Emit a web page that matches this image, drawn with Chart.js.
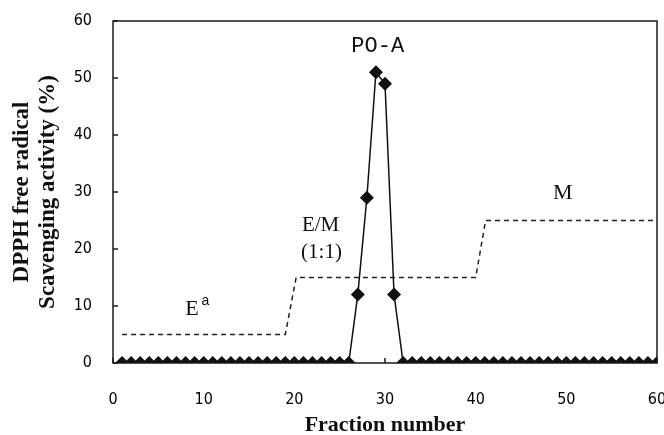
<!DOCTYPE html>
<html>
<head>
<meta charset="utf-8">
<script src="https://cdn.jsdelivr.net/npm/chart.js@4"></script>
<style>
  html, body { margin: 0; padding: 0; background: #fff; }
  #wrap { width: 664px; height: 435px; }
</style>
</head>
<body>
<div id="wrap"><canvas id="c"></canvas></div>
<script>
// Fraction numbers and DPPH scavenging activity (%)
const fractions = [1,2,3,4,5,6,7,8,9,10,11,12,13,14,15,16,17,18,19,20,
  21,22,23,24,25,26,27,28,29,30,31,32,33,34,35,36,37,38,39,40,
  41,42,43,44,45,46,47,48,49,50,51,52,53,54,55,56,57,58,59,60];
const activity = [0,0,0,0,0,0,0,0,0,0,0,0,0,0,0,0,0,0,0,0,
  0,0,0,0,0,0,12,29,51,49,12,0,0,0,0,0,0,0,0,0,
  0,0,0,0,0,0,0,0,0,0,0,0,0,0,0,0,0,0,0,0];

// Eluent step profile (dashed line)
const solventX = [1, 19, 20.2, 40, 41.1, 60];
const solventY = [5, 5, 15, 15, 25, 25];

const xTicks = [0, 10, 20, 30, 40, 50, 60];
const yTicks = [0, 10, 20, 30, 40, 50, 60];

// Text labels inside the plot (data coordinates)
const notes = [
  { text: "PO-A", x: 29.2, y: 55.6, font: "22px 'Liberation Mono'" },
  { text: "E/M", x: 22.9, y: 24.1, font: "21px 'Liberation Serif'" },
  { text: "(1:1)", x: 23.0, y: 19.4, font: "21px 'Liberation Serif'" },
  { text: "M", x: 49.6, y: 29.8, font: "22px 'Liberation Serif'" },
  { text: "E", x: 8.7, y: 9.5, font: "22px 'Liberation Serif'" },
  { text: "a", x: 10.2, y: 10.8, font: "14px 'Liberation Sans'" }
];

const boxAndTicks = {
  id: "boxAndTicks",
  afterDatasetsDraw(chart) {
    const { ctx, chartArea: a, scales } = chart;
    ctx.save();
    ctx.strokeStyle = "#1a1a1a";
    ctx.lineWidth = 1.5;
    // inward tick marks
    ctx.beginPath();
    yTicks.forEach(v => {
      const y = scales.y.getPixelForValue(v);
      ctx.moveTo(a.left, y);
      ctx.lineTo(a.left + 5, y);
    });
    xTicks.forEach(v => {
      const x = scales.x.getPixelForValue(v);
      ctx.moveTo(x, a.bottom);
      ctx.lineTo(x, a.bottom - 5);
    });
    ctx.stroke();
    ctx.strokeRect(a.left, a.top, a.right - a.left, a.bottom - a.top);
    // labels
    ctx.fillStyle = "#111";
    ctx.textAlign = "center";
    ctx.textBaseline = "middle";
    notes.forEach(n => {
      ctx.font = n.font;
      ctx.fillText(n.text, scales.x.getPixelForValue(n.x), scales.y.getPixelForValue(n.y));
    });
    ctx.restore();
  }
};

new Chart(document.getElementById("c"), {
  type: "line",
  data: {
    datasets: [
      {
        label: "PO-A",
        data: fractions.map((f, i) => ({ x: f, y: activity[i] })),
        borderColor: "#111",
        backgroundColor: "#111",
        borderWidth: 1.5,
        pointStyle: "rectRot",
        pointRadius: 7,
        pointBorderWidth: 0,
        tension: 0,
        order: 1
      },
      {
        label: "solvent",
        data: solventX.map((x, i) => ({ x, y: solventY[i] })),
        borderColor: "#222",
        borderWidth: 1.5,
        borderDash: [5, 4],
        pointRadius: 0,
        tension: 0,
        order: 2
      }
    ]
  },
  options: {
    responsive: true,
    maintainAspectRatio: false,
    animation: false,
    layout: { padding: 0 },
    plugins: { legend: { display: false }, tooltip: { enabled: false } },
    scales: {
      x: {
        type: "linear",
        min: 0,
        max: 60,
        afterBuildTicks: s => { s.ticks = xTicks.map(v => ({ value: v })); },
        afterFit: s => { s.height = 72; s.paddingLeft = 0; s.paddingRight = 7; },
        grid: { display: false, drawTicks: false },
        border: { display: false },
        ticks: {
          color: "#000",
          padding: 27,
          maxRotation: 0,
          font: { family: "'Liberation Sans Narrow', 'DejaVu Sans Condensed', sans-serif", size: 16 }
        },
        title: {
          display: true,
          text: "Fraction number",
          color: "#111",
          padding: { top: 0, bottom: -4 },
          font: { family: "'Liberation Serif', serif", size: 22, weight: "bold" }
        }
      },
      y: {
        min: 0,
        max: 60,
        afterBuildTicks: s => { s.ticks = yTicks.map(v => ({ value: v })); },
        afterFit: s => { s.width = 113; s.paddingTop = 21; s.paddingBottom = 0; },
        grid: { display: false, drawTicks: false },
        border: { display: false },
        ticks: {
          color: "#000",
          padding: 21,
          font: { family: "'Liberation Sans Narrow', 'DejaVu Sans Condensed', sans-serif", size: 16 }
        },
        title: {
          display: true,
          text: ["DPPH free radical", "Scavenging activity (%)"],
          color: "#111",
          padding: { top: 9, bottom: 0 },
          font: { family: "'Liberation Serif', serif", size: 23, weight: "bold", lineHeight: 1.12 }
        }
      }
    }
  },
  plugins: [boxAndTicks]
});
</script>
</body>
</html>
